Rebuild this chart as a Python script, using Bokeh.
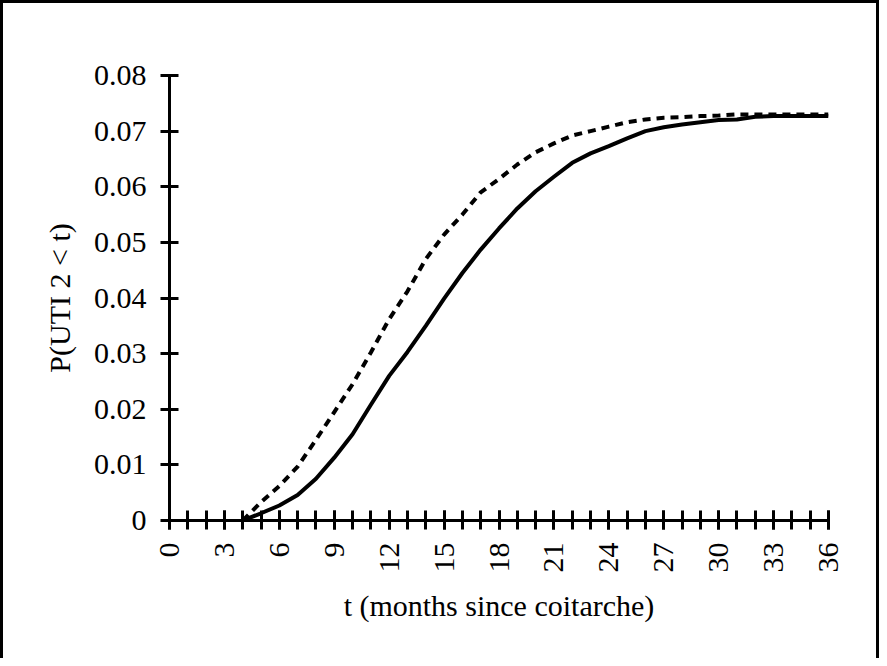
from bokeh.plotting import figure
from bokeh.models import Range1d, FixedTicker
from bokeh.embed import file_html
from bokeh.resources import INLINE
import math

# ---- data ----
months = list(range(4, 37))
solid_vals = [0.0, 0.0013, 0.0027, 0.0046, 0.0075, 0.0113, 0.0155, 0.0208, 0.0260,
              0.0303, 0.0350, 0.0399, 0.0445, 0.0487, 0.0525, 0.0561, 0.0592, 0.0618,
              0.0643, 0.0660, 0.0673, 0.0687, 0.0700, 0.0707, 0.0712, 0.0716, 0.0720,
              0.0721, 0.0726, 0.0727, 0.0727, 0.0727, 0.0727]
dashed_vals = [0.0, 0.0033, 0.0062, 0.0097, 0.0145, 0.0195, 0.0245, 0.0302, 0.0362,
               0.0412, 0.0470, 0.0514, 0.0550, 0.0590, 0.0614, 0.0640, 0.0662, 0.0678,
               0.0692, 0.0700, 0.0708, 0.0716, 0.0721, 0.0724, 0.0725, 0.0727, 0.0728,
               0.0730, 0.0730, 0.0730, 0.0730, 0.0730, 0.0730]
x_ticks = list(range(0, 37, 3))
x_minor = list(range(0, 37))
y_ticks = [0, 0.01, 0.02, 0.03, 0.04, 0.05, 0.06, 0.07, 0.08]
y_labels = ["0", "0.01", "0.02", "0.03", "0.04", "0.05", "0.06", "0.07", "0.08"]
x_title = "t (months since coitarche)"
y_title = "P(UTI 2 < t)"

FONT = "Liberation Serif"

p = figure(width=879, height=658, output_backend="svg", toolbar_location=None,
           x_range=Range1d(0, 36), y_range=Range1d(0, 0.08),
           min_border_left=166, min_border_top=72, min_border_right=54,
           min_border_bottom=141)
p.styles = {"border-left": "3px solid black", "border-top": "3px solid black",
            "border-right": "3px solid black", "box-sizing": "border-box"}
p.outline_line_color = None
p.xgrid.visible = False
p.ygrid.visible = False

p.line(months, solid_vals, line_color="black", line_width=4)
p.line(months, dashed_vals, line_color="black", line_width=4,
       line_dash="8 6", line_cap="butt")

xa = p.xaxis[0]
xa.ticker = FixedTicker(ticks=x_ticks, minor_ticks=x_minor)
xa.axis_line_width = 3
xa.axis_line_color = "black"
xa.major_tick_line_width = 3
xa.minor_tick_line_width = 3
xa.major_tick_line_color = "black"
xa.minor_tick_line_color = "black"
xa.major_tick_in = 10
xa.major_tick_out = 9
xa.minor_tick_in = 10
xa.minor_tick_out = 9
xa.major_label_orientation = math.pi / 2
xa.major_label_text_font = FONT
xa.major_label_text_font_size = "30px"
xa.major_label_text_color = "black"
xa.major_label_standoff = 13
xa.axis_label = x_title
xa.axis_label_text_font = FONT
xa.axis_label_text_font_style = "normal"
xa.axis_label_text_font_size = "30px"
xa.axis_label_text_color = "black"
xa.axis_label_standoff = 13

ya = p.yaxis[0]
ya.ticker = FixedTicker(ticks=y_ticks, minor_ticks=[])
ya.major_label_overrides = {t: l for t, l in zip(y_ticks, y_labels)}
ya.axis_line_width = 3
ya.axis_line_color = "black"
ya.major_tick_line_width = 3
ya.major_tick_line_color = "black"
ya.major_tick_in = 9
ya.major_tick_out = 9
ya.major_label_text_font = FONT
ya.major_label_text_font_size = "30px"
ya.major_label_text_color = "black"
ya.major_label_standoff = 14
ya.axis_label = y_title
ya.axis_label_text_font = FONT
ya.axis_label_text_font_style = "normal"
ya.axis_label_text_font_size = "30px"
ya.axis_label_text_color = "black"
ya.axis_label_standoff = 15

open("out.html", "w").write(file_html(p, INLINE))
